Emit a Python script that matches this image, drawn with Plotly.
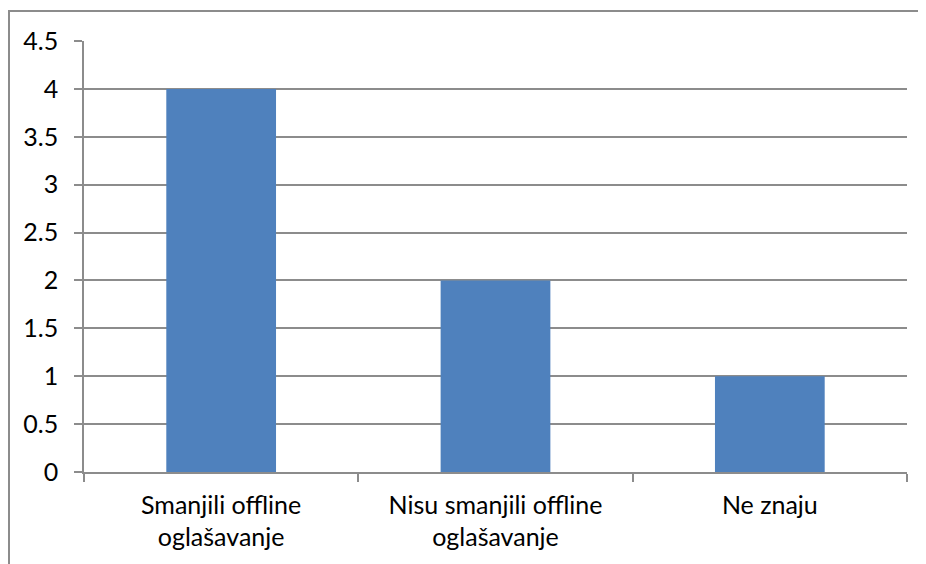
import plotly.graph_objects as go

categories = ["Smanjili offline<br>oglašavanje", "Nisu smanjili offline<br>oglašavanje", "Ne znaju"]
values = [4, 2, 1]
y_ticks = [0, 0.5, 1, 1.5, 2, 2.5, 3, 3.5, 4, 4.5]
y_labels = ["0", "0.5", "1", "1.5", "2", "2.5", "3", "3.5", "4", "4.5"]

# page body has an 8px margin, so the figure starts at (8, 8)
W, H = 918, 556
L, R, T, B = 76, 19, 33, 92
pw, ph = W - L - R, H - T - B

fig = go.Figure(go.Bar(x=categories, y=values, marker=dict(color="#4F81BD", line=dict(width=0))))

grid = "#8C8C8C"
font = "Lato"
fs = 25
fig.update_layout(
    width=W, height=H,
    margin=dict(l=L, r=R, t=T, b=B),
    plot_bgcolor="white", paper_bgcolor="white",
    bargap=0.6,
    showlegend=False,
    font=dict(family=font, size=fs, color="black"),
    xaxis=dict(
        type="category", tickson="boundaries", ticks="outside", ticklen=8,
        tickcolor=grid, tickwidth=1.5, showline=True, linecolor=grid, linewidth=1.5,
        showgrid=False, tickfont=dict(family=font, size=fs, color="black"), ticklabelstandoff=10,
    ),
    yaxis=dict(
        range=[0, 4.5], tickvals=y_ticks, ticktext=y_labels,
        ticks="outside", ticklen=8, tickcolor=grid, tickwidth=1.5,
        showline=True, linecolor=grid, linewidth=1.5,
        showgrid=True, gridcolor=grid, gridwidth=1.5, zeroline=False,
        tickfont=dict(family=font, size=fs, color="black"), ticklabelstandoff=11,
    ),
    shapes=[dict(
        type="rect", xref="paper", yref="paper",
        x0=(1 - L) / pw, x1=(W + 20 - L) / pw,
        y0=-0.5, y1=(H - B - 3) / ph,
        line=dict(color=grid, width=2), fillcolor="rgba(0,0,0,0)", layer="below",
    )],
)

fig.write_html("out.html")
